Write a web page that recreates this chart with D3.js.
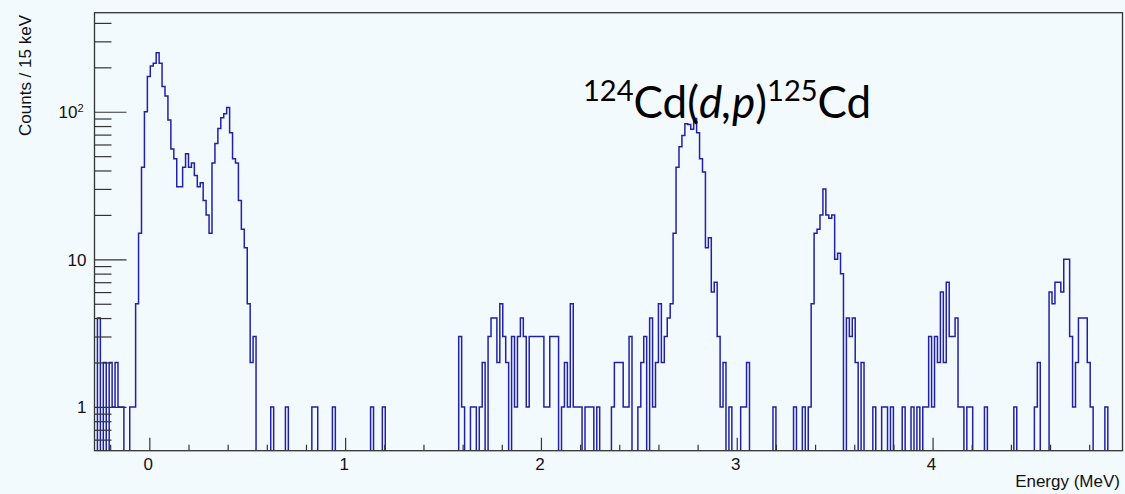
<!DOCTYPE html>
<html><head><meta charset="utf-8">
<script src="https://cdn.jsdelivr.net/npm/d3@7"></script>
<style>
html,body{margin:0;padding:0;background:#f3fafd;}
svg{display:block;}
</style></head><body>
<svg id="c" width="1125" height="494"></svg>
<script>
// ---------- data ----------
const binStart = -0.28;   // MeV, lower edge of first bin
const binWidth = 0.015;   // MeV (15 keV)
const counts = [
  0,4,0,2,0,2,1,2,1,1,
  0,0,1,1,5,15,42,100,173,204,
  213,251,213,148,128,88,56,48,31,31,
  42,52,42,45,37,31,33,25,20,15,
  45,61,77,91,97,107,72,48,45,25,
  16,12,5,2,3,0,0,0,0,0,
  1,0,0,0,0,1,0,0,0,0,
  0,0,0,0,1,1,0,0,0,0,
  0,1,0,0,0,0,0,0,0,0,
  0,0,0,0,1,0,0,0,1,0,
  0,0,0,0,0,0,0,0,0,0,
  0,0,0,0,0,0,0,0,0,0,
  0,0,0,0,3,1,0,0,1,1,
  0,1,2,0,3,4,4,2,5,3,
  2,0,3,1,3,4,3,1,3,3,
  3,3,3,1,1,3,3,3,0,1,
  2,1,5,1,1,1,0,1,1,1,
  0,1,0,0,0,0,1,2,2,2,
  1,1,3,0,0,1,2,3,0,4,
  1,2,5,2,3,4,5,15,42,58,
  69,83,82,76,90,72,48,39,12,14,
  6,7,3,1,2,0,1,0,0,0,
  1,1,2,0,0,0,0,0,0,0,
  0,1,0,0,0,0,0,0,1,0,
  0,1,0,1,5,15,16,20,30,20,
  19,20,10,11,8,0,4,3,4,2,
  0,2,0,0,0,1,0,0,1,1,
  0,1,0,0,0,1,0,0,1,0,
  1,0,1,1,3,1,3,2,6,2,
  7,3,3,4,1,1,0,1,1,0,
  0,0,0,1,0,0,0,0,0,0,
  0,0,0,1,0,0,0,0,0,0,
  1,2,0,0,0,6,5,7,7,6,
  10,10,3,1,2,4,4,4,2,1,
  0,0,0,0,1,0,0,0,0,0
];
const xMajorTicks = [0, 1, 2, 3, 4];
const xTickLabels = ["0", "1", "2", "3", "4"];
const xMinorTicks = [-0.2,0.2,0.4,0.6,0.8,1.2,1.4,1.6,1.8,2.2,2.4,2.6,2.8,3.2,3.4,3.6,3.8,4.2,4.4,4.6,4.8];
const yMajorTicks = [1, 10, 100];
const yTickBase = ["1", "10", "10"];
const yTickExp = ["", "", "2"];
const yMinorTicks = [0.6,0.7,0.8,0.9,2,3,4,5,6,7,8,9,20,30,40,50,60,70,80,90,200,300,400];
const xTitle = "Energy (MeV)";
const yTitle = "Counts / 15 keV";
const noteParts = ["124", "Cd(", "d,p", ")", "125", "Cd"];

// ---------- layout ----------
const plot = {left: 94.5, right: 1122.5, top: 12.7, bottom: 450.7};
const svg = d3.select("#c");
svg.append("rect").attr("width",1125).attr("height",494).attr("fill","#f3fafd");

const x = d3.scaleLinear().domain([-0.28, 4.97]).range([plot.left, plot.right]);
const y = d3.scaleLog().domain([0.505, 469]).range([plot.bottom, plot.top]);

svg.append("defs").append("clipPath").attr("id","clip")
  .append("rect").attr("x",plot.left).attr("y",plot.top)
  .attr("width",plot.right-plot.left).attr("height",plot.bottom-plot.top);

// histogram
const pts = [];
const yb = plot.bottom + 3;
pts.push([x(binStart), yb]);
counts.forEach((c,i)=>{
  const e0 = binStart + i*binWidth, e1 = e0 + binWidth;
  const yy = c > 0 ? y(c) : yb;
  pts.push([x(e0), yy]); pts.push([x(e1), yy]);
});
pts.push([x(binStart + counts.length*binWidth), yb]);
svg.append("path").attr("clip-path","url(#clip)")
  .attr("d", d3.line()(pts))
  .attr("fill","none").attr("stroke","#2121a6").attr("stroke-width",1.5)
  .attr("stroke-linejoin","miter");

// axes
const axisColor = "#333";
const font = "'Liberation Sans', Arial, sans-serif";

const gx = svg.append("g").attr("transform",`translate(0,${plot.bottom})`)
  .call(d3.axisBottom(x).tickValues(xMajorTicks).tickSize(-13).tickPadding(7)
        .tickFormat((d,i)=>xTickLabels[i]));
svg.append("g").attr("transform",`translate(0,${plot.bottom})`)
  .call(d3.axisBottom(x).tickValues(xMinorTicks).tickSize(-6).tickFormat(""))
  .call(g=>g.select(".domain").remove());

const gy = svg.append("g").attr("transform",`translate(${plot.left},0)`)
  .call(d3.axisLeft(y).tickValues(yMajorTicks).tickSize(-32).tickPadding(9).tickFormat(""));
svg.append("g").attr("transform",`translate(${plot.left},0)`)
  .call(d3.axisLeft(y).tickValues(yMinorTicks).tickSize(-17).tickFormat(""))
  .call(g=>g.select(".domain").remove());

svg.selectAll(".tick line").attr("stroke",axisColor).attr("stroke-width",1.2);
svg.selectAll(".domain").remove();
gx.selectAll("text").attr("font-family",font).attr("font-size",17).attr("fill","#111")
  .attr("dx",-1.5);

// y tick labels with exponent
gy.selectAll(".tick").each(function(d,i){
  const t = d3.select(this).append("text").attr("x",-8).attr("y",0).attr("dy","0.35em")
    .attr("text-anchor","end").attr("font-family",font).attr("font-size",17).attr("fill","#111");
  if (yTickExp[i]) {
    t.attr("x",-11);
    t.append("tspan").text(yTickBase[i]);
    t.append("tspan").attr("font-size",11).attr("dy","-0.55em").text(yTickExp[i]);
  } else t.text(yTickBase[i]);
});

// frame
svg.append("rect").attr("x",plot.left).attr("y",plot.top)
  .attr("width",plot.right-plot.left).attr("height",plot.bottom-plot.top)
  .attr("fill","none").attr("stroke",axisColor).attr("stroke-width",1.3);

// titles
svg.append("text").attr("x",1120).attr("y",487).attr("text-anchor","end")
  .attr("font-family",font).attr("font-size",17).attr("fill","#111").text(xTitle);
svg.append("text").attr("transform","translate(31,15) rotate(-90)").attr("text-anchor","end")
  .attr("font-family",font).attr("font-size",17).attr("fill","#111").text(yTitle);

// annotation
const note = svg.append("text").attr("x",583).attr("y",118)
  .attr("font-family","Lato, 'Open Sans', sans-serif").attr("font-size",44).attr("fill","#000");
note.append("tspan").attr("font-size",29).attr("dy",-17).text(noteParts[0]);
note.append("tspan").attr("dy",17).text(noteParts[1]);
note.append("tspan").attr("font-style","italic").text(noteParts[2]);
note.append("tspan").text(noteParts[3]);
note.append("tspan").attr("font-size",29).attr("dy",-17).text(noteParts[4]);
note.append("tspan").attr("dy",17).text(noteParts[5]);
</script>
</body></html>
